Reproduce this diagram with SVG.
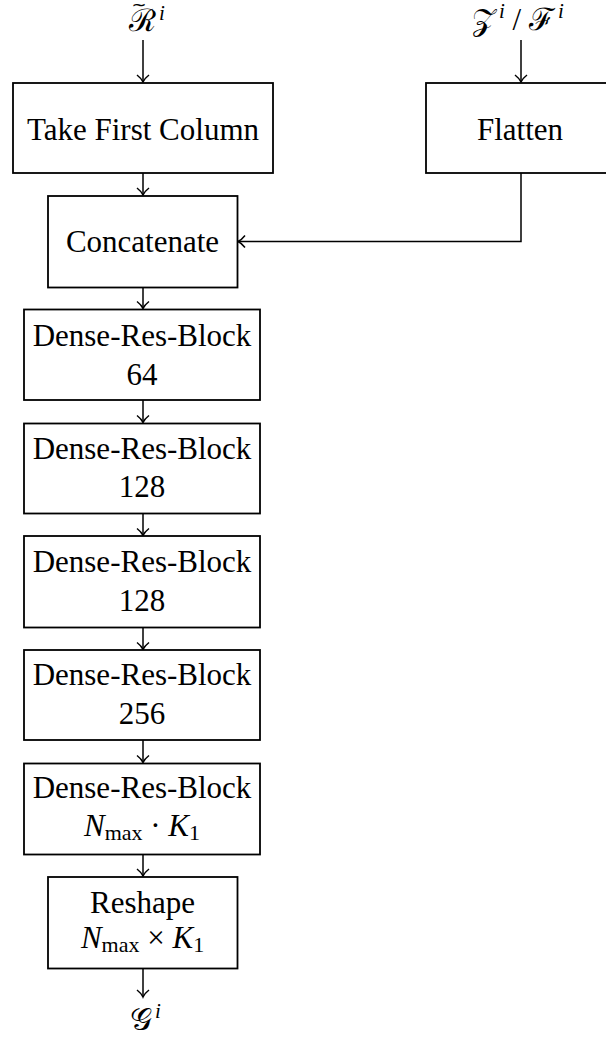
<svg xmlns="http://www.w3.org/2000/svg" width="606" height="1042" viewBox="0 0 606 1042">
<style>
.box{fill:#fff;stroke:#000;stroke-width:1.8}
.t{font-family:"Liberation Serif","DejaVu Serif",serif;font-size:31px;fill:#000;text-anchor:middle}
.m{font-family:"Liberation Serif","DejaVu Serif",serif;font-size:31px;fill:#000}
.c{fill:none;stroke:#000;stroke-width:1.5}
</style>
<defs>
<marker id="ah" markerUnits="userSpaceOnUse" markerWidth="16" markerHeight="16" refX="10" refY="7" orient="auto" viewBox="0 0 16 14">
<path d="M3,1 Q6.5,5.5 10,7 Q6.5,8.5 3,13" fill="none" stroke="#000" stroke-width="1.5"/>
</marker>
</defs>
<g id="connectors">
<path class="c" d="M143,40 V82" marker-end="url(#ah)"/>
<path class="c" d="M521,40 V82" marker-end="url(#ah)"/>
<path class="c" d="M143,173 V195" marker-end="url(#ah)"/>
<path class="c" d="M521,173 V241.5 H238" marker-end="url(#ah)"/>
<path class="c" d="M143,287 V308.5" marker-end="url(#ah)"/>
<path class="c" d="M143,400 V422.5" marker-end="url(#ah)"/>
<path class="c" d="M143,513.5 V535.5" marker-end="url(#ah)"/>
<path class="c" d="M143,627.5 V649.5" marker-end="url(#ah)"/>
<path class="c" d="M143,740 V762.5" marker-end="url(#ah)"/>
<path class="c" d="M143,854.5 V876" marker-end="url(#ah)"/>
<path class="c" d="M143,968.5 V997" marker-end="url(#ah)"/>
</g>
<g id="in-R">
<text x="139" y="11" font-family="DejaVu Sans, sans-serif" font-size="18" text-anchor="middle" fill="#000">~</text>
<text class="m" x="129" y="31" font-size="28">ℛ<tspan font-size="21" font-style="italic" dx="3" dy="-11">i</tspan></text>
</g>
<g id="in-ZF">
<text class="m" x="472" y="30">𝒵<tspan font-size="21" font-style="italic" dx="3" dy="-12">i</tspan><tspan dy="12"> / </tspan>ℱ<tspan font-size="21" font-style="italic" dx="3" dy="-12">i</tspan></text>
</g>
<g id="take-first-column">
<rect class="box" x="13" y="83" width="260" height="90"/>
<text class="t" x="143" y="140" font-size="32">Take First Column</text>
</g>
<g id="flatten">
<rect class="box" x="426" y="83" width="190" height="90"/>
<text class="t" x="520" y="140">Flatten</text>
</g>
<g id="concatenate">
<rect class="box" x="48" y="196" width="189.5" height="91.5"/>
<text class="t" x="142.5" y="252">Concatenate</text>
</g>
<g id="drb-64">
<rect class="box" x="24" y="309.5" width="236" height="90.5"/>
<text class="t" x="142" y="346">Dense-Res-Block</text>
<text class="t" x="142" y="385">64</text>
</g>
<g id="drb-128a">
<rect class="box" x="24" y="423.5" width="236" height="90"/>
<text class="t" x="142" y="459">Dense-Res-Block</text>
<text class="t" x="142" y="497">128</text>
</g>
<g id="drb-128b">
<rect class="box" x="24" y="536" width="236" height="91.5"/>
<text class="t" x="142" y="572">Dense-Res-Block</text>
<text class="t" x="142" y="611">128</text>
</g>
<g id="drb-256">
<rect class="box" x="24" y="650" width="236" height="90"/>
<text class="t" x="142" y="685">Dense-Res-Block</text>
<text class="t" x="142" y="724">256</text>
</g>
<g id="drb-nk">
<rect class="box" x="24" y="763.5" width="236" height="91"/>
<text class="t" x="142" y="798">Dense-Res-Block</text>
<text class="t" x="142" y="836"><tspan font-style="italic">N</tspan><tspan font-size="22" dy="4">max</tspan><tspan dy="-4"> · </tspan><tspan font-style="italic">K</tspan><tspan font-size="22" dy="4">1</tspan></text>
</g>
<g id="reshape">
<rect class="box" x="48" y="877" width="189.5" height="91.5"/>
<text class="t" x="142.5" y="913">Reshape</text>
<text class="t" x="142.5" y="948"><tspan font-style="italic">N</tspan><tspan font-size="22" dy="4">max</tspan><tspan dy="-4"> × </tspan><tspan font-style="italic">K</tspan><tspan font-size="22" dy="4">1</tspan></text>
</g>
<g id="out-G">
<text class="m" x="130" y="1030">𝒢<tspan font-size="21" font-style="italic" dx="3" dy="-12">i</tspan></text>
</g>
</svg>
